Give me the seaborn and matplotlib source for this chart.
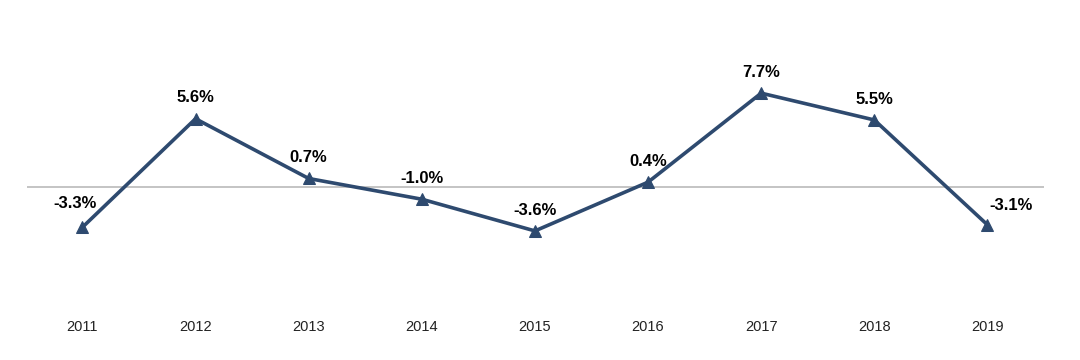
import numpy as np
import pandas as pd
import seaborn as sns
import matplotlib.pyplot as plt

years = ['2011', '2012', '2013', '2014', '2015', '2016', '2017', '2018', '2019']
growth = [-3.3, 5.6, 0.7, -1.0, -3.6, 0.4, 7.7, 5.5, -3.1]

sns.set_style('white')
plt.rcParams['font.family'] = ['Liberation Sans', 'DejaVu Sans']

df = pd.DataFrame({'year': years, 'growth': growth})
df['pos'] = np.arange(len(years))

color = '#2E4A6F'

fig = plt.figure(figsize=(10.8, 3.6), dpi=100)
# axes placed in pixel terms: left 27px, right 1044px, top 20px, bottom 312px
ax = fig.add_axes([27 / 1080, 1 - 312 / 360, (1044 - 27) / 1080, (312 - 20) / 360])

ax.axhline(0, color='#BFBFBF', linewidth=1.3, zorder=1)
sns.lineplot(data=df, x='pos', y='growth', ax=ax, color=color, linewidth=2.6,
             marker='^', markersize=9, markeredgecolor=color, zorder=3)

# label offsets (points): first and last sit off to the side
for i, (p, v) in enumerate(zip(df['pos'], df['growth'])):
    dx, dy = 0, 15
    if i == 0:
        dx, dy = -5, 17
    elif i == len(years) - 1:
        dx, dy = 17, 14
    ax.annotate(f'{v:.1f}%', (p, v), xytext=(dx, dy), textcoords='offset points',
                ha='center', va='center', fontsize=12, fontweight='bold', color='black')

ax.set_xlim(-0.49, 8.5)
ax.set_ylim(-10.25, 13.7)
ax.set_xticks(df['pos'])
ax.set_xticklabels(years, fontsize=10.5, color='#222222')
ax.tick_params(axis='x', length=0, pad=6)
ax.set_yticks([])
ax.set_xlabel('')
ax.set_ylabel('')
for s in ax.spines.values():
    s.set_visible(False)

fig.savefig('out.png', dpi=100)
